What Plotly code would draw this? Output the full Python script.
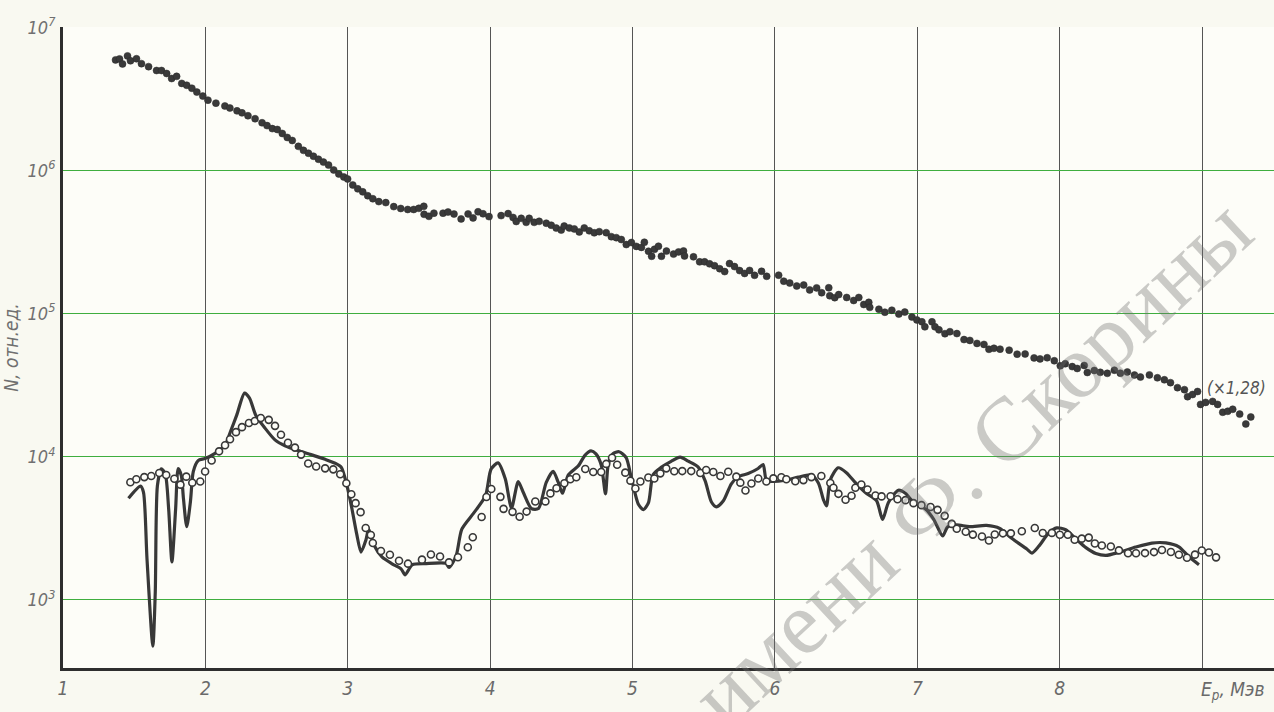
import numpy as np
import plotly.graph_objects as go

# ---------------- data (E in MeV, values as log10 N) ----------------
top_E = [1.369,1.397,1.418,1.453,1.474,1.516,1.551,1.601,1.657,1.692,1.728,1.763,1.798,1.834,1.869,1.905,1.940,1.982,
         2.018,2.074,2.137,2.172,2.222,2.257,2.299,2.349,2.398,2.433,2.470,2.505,2.540,2.575,2.610,2.653,2.689,2.724,
         2.759,2.794,2.829,2.865,2.901,2.937,2.972,2.999,3.035,3.070,3.105,3.140,3.176,3.218,3.267,3.323,3.372,3.421,
         3.463,3.499,3.534,3.536,3.570,3.605,3.669,3.704,3.746,3.796,3.845,3.880,3.915,3.950,3.992,4.077,4.126,4.161,
         4.183,4.218,4.253,4.274,4.309,4.344,4.394,4.429,4.464,4.499,4.520,4.556,4.591,4.626,4.661,4.696,4.731,4.766,
         4.815,4.851,4.886,4.921,4.956,4.992,5.027,5.062,5.083,5.112,5.134,5.154,5.182,5.203,5.238,5.288,5.323,5.358,
         5.365,5.428,5.471,5.506,5.541,5.576,5.612,5.647,5.681,5.716,5.752,5.787,5.822,5.857,5.906,5.942,6.026,6.062,
         6.104,6.153,6.202,6.244,6.293,6.328,6.378,6.385,6.420,6.448,6.504,6.553,6.589,6.624,6.659,6.666,6.730,6.772,
         6.821,6.870,6.912,6.962,6.997,7.032,7.053,7.103,7.124,7.152,7.194,7.229,7.278,7.328,7.369,7.419,7.468,7.503,
         7.538,7.581,7.645,7.701,7.757,7.820,7.862,7.912,7.962,8.004,8.039,8.088,8.123,8.172,8.194,8.243,8.285,8.334,
         8.384,8.426,8.475,8.525,8.567,8.630,8.686,8.735,8.778,8.827,8.876,8.898,8.933,8.968,8.989,9.025,9.074,9.109,
         9.145,9.180,9.215,9.264,9.307,9.342]
top_logN = [6.773,6.780,6.745,6.801,6.767,6.781,6.747,6.726,6.699,6.699,6.678,6.643,6.658,6.609,6.596,6.575,6.548,6.520,
            6.492,6.471,6.451,6.437,6.417,6.403,6.383,6.362,6.334,6.314,6.293,6.287,6.259,6.231,6.210,6.169,6.141,6.121,
            6.100,6.079,6.059,6.038,6.004,5.976,5.955,5.941,5.899,5.872,5.851,5.824,5.803,5.783,5.776,5.748,5.735,5.728,
            5.728,5.736,5.750,5.694,5.680,5.702,5.702,5.710,5.696,5.662,5.697,5.669,5.712,5.698,5.678,5.685,5.699,5.672,
            5.644,5.666,5.638,5.666,5.638,5.645,5.632,5.618,5.598,5.584,5.612,5.599,5.592,5.571,5.599,5.579,5.565,5.573,
            5.566,5.538,5.531,5.518,5.483,5.497,5.470,5.463,5.499,5.436,5.401,5.450,5.471,5.401,5.437,5.416,5.431,5.438,
            5.403,5.397,5.362,5.362,5.348,5.335,5.314,5.294,5.350,5.329,5.301,5.281,5.302,5.268,5.296,5.261,5.269,5.227,
            5.214,5.193,5.200,5.166,5.180,5.146,5.181,5.125,5.112,5.133,5.113,5.092,5.113,5.064,5.079,5.044,5.031,5.010,
            5.024,4.997,5.011,4.977,4.956,4.943,4.908,4.943,4.908,4.887,4.860,4.874,4.861,4.819,4.813,4.792,4.785,4.751,
            4.758,4.752,4.745,4.717,4.718,4.691,4.684,4.692,4.671,4.636,4.650,4.630,4.617,4.638,4.589,4.603,4.590,4.583,
            4.605,4.584,4.592,4.571,4.557,4.572,4.552,4.538,4.518,4.483,4.469,4.420,4.435,4.456,4.366,4.380,4.387,4.366,
            4.311,4.318,4.332,4.298,4.229,4.278]

open_E = [1.473,1.515,1.571,1.620,1.676,1.725,1.782,1.825,1.866,1.908,1.964,1.998,2.044,2.096,2.138,2.173,2.215,2.257,
          2.306,2.347,2.389,2.445,2.489,2.531,2.580,2.629,2.672,2.722,2.778,2.841,2.898,2.947,2.990,3.025,3.055,3.090,
          3.126,3.162,3.176,3.233,3.296,3.360,3.423,3.521,3.584,3.648,3.711,3.774,3.843,3.878,3.940,3.974,4.008,4.072,
          4.094,4.157,4.207,4.256,4.317,4.388,4.423,4.466,4.521,4.563,4.605,4.668,4.724,4.780,4.815,4.856,4.892,4.949,
          4.985,5.020,5.055,5.111,5.153,5.195,5.237,5.293,5.349,5.412,5.476,5.517,5.567,5.617,5.672,5.729,5.757,5.793,
          5.835,5.883,5.940,5.989,6.045,6.080,6.143,6.200,6.256,6.326,6.389,6.411,6.446,6.496,6.538,6.565,6.607,6.650,
          6.706,6.749,6.812,6.861,6.917,6.973,7.029,7.093,7.142,7.192,7.242,7.277,7.340,7.390,7.454,7.503,7.544,7.601,
          7.657,7.734,7.825,7.881,7.945,8.001,8.057,8.105,8.155,8.204,8.247,8.296,8.359,8.416,8.480,8.536,8.599,8.662,
          8.718,8.781,8.837,8.894,8.950,8.998,9.048,9.098]
open_logN = [3.822,3.843,3.858,3.866,3.887,3.873,3.846,3.805,3.861,3.819,3.827,3.897,3.974,4.038,4.080,4.122,4.172,4.207,
             4.236,4.250,4.271,4.258,4.216,4.154,4.098,4.064,4.015,3.953,3.932,3.919,3.912,3.878,3.815,3.738,3.676,3.613,
             3.502,3.453,3.397,3.342,3.315,3.273,3.253,3.281,3.317,3.303,3.262,3.298,3.368,3.438,3.579,3.719,3.775,3.720,
             3.636,3.615,3.581,3.617,3.687,3.688,3.744,3.780,3.815,3.843,3.857,3.914,3.894,3.894,3.950,3.993,3.944,3.889,
             3.833,3.778,3.827,3.855,3.848,3.884,3.919,3.899,3.900,3.900,3.887,3.908,3.894,3.866,3.895,3.861,3.819,3.764,
             3.813,3.848,3.827,3.849,3.857,3.843,3.829,3.837,3.858,3.866,3.817,3.783,3.741,3.700,3.728,3.784,3.806,3.771,
             3.729,3.723,3.724,3.703,3.697,3.676,3.662,3.649,3.629,3.587,3.531,3.497,3.476,3.456,3.443,3.415,3.457,3.465,
             3.465,3.480,3.502,3.467,3.468,3.455,3.455,3.420,3.428,3.435,3.394,3.380,3.373,3.346,3.326,3.326,3.327,3.334,
             3.349,3.335,3.315,3.294,3.316,3.345,3.331,3.297]

line_E = [1.460,1.544,1.565,1.590,1.631,1.648,1.663,1.690,1.718,1.742,1.765,1.791,1.809,1.831,1.846,1.869,1.895,1.915,
          1.949,1.998,2.068,2.138,2.177,2.220,2.275,2.310,2.353,2.418,2.489,2.559,2.651,2.742,2.841,2.911,2.954,2.992,
          3.027,3.063,3.093,3.127,3.147,3.184,3.240,3.311,3.374,3.403,3.452,3.550,3.690,3.711,3.760,3.801,3.884,3.967,
          4.007,4.056,4.106,4.150,4.197,4.233,4.290,4.339,4.394,4.442,4.478,4.508,4.548,4.618,4.667,4.708,4.743,4.780,
          4.810,4.829,4.863,4.905,4.955,4.991,5.042,5.077,5.112,5.145,5.201,5.271,5.334,5.391,5.461,5.510,5.554,5.589,
          5.638,5.694,5.742,5.812,5.882,5.917,5.940,5.975,6.073,6.164,6.255,6.305,6.341,6.362,6.389,6.444,6.502,6.565,
          6.635,6.713,6.756,6.797,6.867,6.916,6.973,7.057,7.114,7.178,7.213,7.275,7.366,7.486,7.579,7.663,7.769,7.805,
          7.854,7.924,7.979,8.042,8.113,8.184,8.254,8.325,8.415,8.534,8.647,8.745,8.837,8.908,8.978]
line_logN = [3.710,3.795,3.753,3.285,2.677,3.055,3.797,3.915,3.881,3.636,3.266,3.636,3.917,3.868,3.707,3.511,3.687,3.896,
             3.973,3.988,4.024,4.080,4.178,4.291,4.445,4.410,4.292,4.201,4.118,4.077,4.043,4.015,3.982,3.955,3.927,3.808,
             3.648,3.459,3.334,3.417,3.495,3.383,3.300,3.252,3.217,3.175,3.245,3.254,3.255,3.227,3.304,3.494,3.606,3.726,
             3.915,3.957,3.846,3.643,3.826,3.750,3.638,3.638,3.821,3.898,3.822,3.745,3.871,3.935,4.012,4.041,4.020,3.943,
             3.741,3.943,4.021,4.035,3.994,3.854,3.666,3.631,3.680,3.876,3.926,3.968,3.997,3.969,3.928,3.831,3.684,3.650,
             3.692,3.811,3.861,3.883,3.918,3.946,3.835,3.828,3.836,3.858,3.872,3.817,3.699,3.657,3.839,3.923,3.889,3.819,
             3.750,3.694,3.562,3.681,3.766,3.745,3.683,3.635,3.565,3.447,3.510,3.524,3.512,3.520,3.499,3.430,3.355,3.327,
             3.376,3.468,3.503,3.490,3.427,3.365,3.324,3.311,3.332,3.369,3.397,3.398,3.371,3.301,3.246]

x_ticks = [1, 2, 3, 4, 5, 6, 7, 8, 9]
x_ticktext = ["1", "2", "3", "4", "5", "6", "7", "8", ""]
y_ticks = [1e3, 1e4, 1e5, 1e6, 1e7]
y_ticktext = ["10<sup>3</sup>", "10<sup>4</sup>", "10<sup>5</sup>", "10<sup>6</sup>", "10<sup>7</sup>"]

# ---------------- figure ----------------
INK = "#383838"
FONT = "Liberation Sans Narrow, DejaVu Sans Condensed, Arial Narrow, sans-serif"

fig = go.Figure()
fig.add_trace(go.Scatter(x=line_E, y=10 ** np.array(line_logN), mode="lines",
                         line=dict(color=INK, width=3.2, shape="spline", smoothing=0.7),
                         showlegend=False, hoverinfo="skip"))
fig.add_trace(go.Scatter(x=open_E, y=10 ** np.array(open_logN), mode="markers",
                         marker=dict(symbol="circle", size=7, color="#fdfdf8",
                                     line=dict(color=INK, width=1.6)),
                         showlegend=False))
fig.add_trace(go.Scatter(x=top_E, y=10 ** np.array(top_logN), mode="markers",
                         marker=dict(symbol="circle", size=7, color="#3a3a3a",
                                     line=dict(color="#2a2a2a", width=0.5)),
                         showlegend=False))

fig.update_layout(
    width=1274, height=712,
    margin=dict(l=63, r=0, t=27, b=44, autoexpand=False),
    paper_bgcolor="#f9f9f1",
    plot_bgcolor="#fdfdf8",
    font=dict(family=FONT, color="#6e6e6e"),
    xaxis=dict(range=[1, 9.505], tickvals=x_ticks, ticktext=x_ticktext,
               showgrid=True, gridcolor="#555555", gridwidth=1.2,
               showline=True, linecolor="#2e2e2e", linewidth=3,
               ticks="outside", ticklen=1, tickcolor="rgba(0,0,0,0)",
               tickfont=dict(size=19, style="italic", color="#6a6a6a"),
               zeroline=False),
    yaxis=dict(type="log", range=[2.524, 7.003], tickvals=y_ticks, ticktext=y_ticktext,
               showgrid=True, gridcolor="#3fae3f", gridwidth=1.4,
               showline=True, linecolor="#2e2e2e", linewidth=3,
               ticks="outside", ticklen=1, tickcolor="rgba(0,0,0,0)",
               tickfont=dict(size=18, style="italic", color="#707070"),
               title=dict(text="N, отн.ед.", standoff=4,
                          font=dict(size=19, style="italic", color="#707070")),
               zeroline=False),
    annotations=[
        dict(x=8.98, xref="x", y=-0.012, yref="paper", xanchor="left", yanchor="top",
             text="E<sub>p</sub>, Мэв", showarrow=False,
             font=dict(size=19, style="italic", color="#6a6a6a")),
        dict(x=9.244, y=4.48, xref="x", yref="y", text="(×1,28)", showarrow=False,
             font=dict(size=17, style="italic", color="#555555")),
        dict(x=7.38, y=3.96, xref="x", yref="y", text="имени Ф. Скорины", showarrow=False,
             textangle=-43, font=dict(family="Liberation Serif, DejaVu Serif, serif",
                                      size=90, color="rgba(110,110,110,0.36)")),
    ],
)

fig.write_html("out.html", config={"displayModeBar": False},
               post_script="document.body.style.margin='0';document.body.style.overflow='hidden';")
